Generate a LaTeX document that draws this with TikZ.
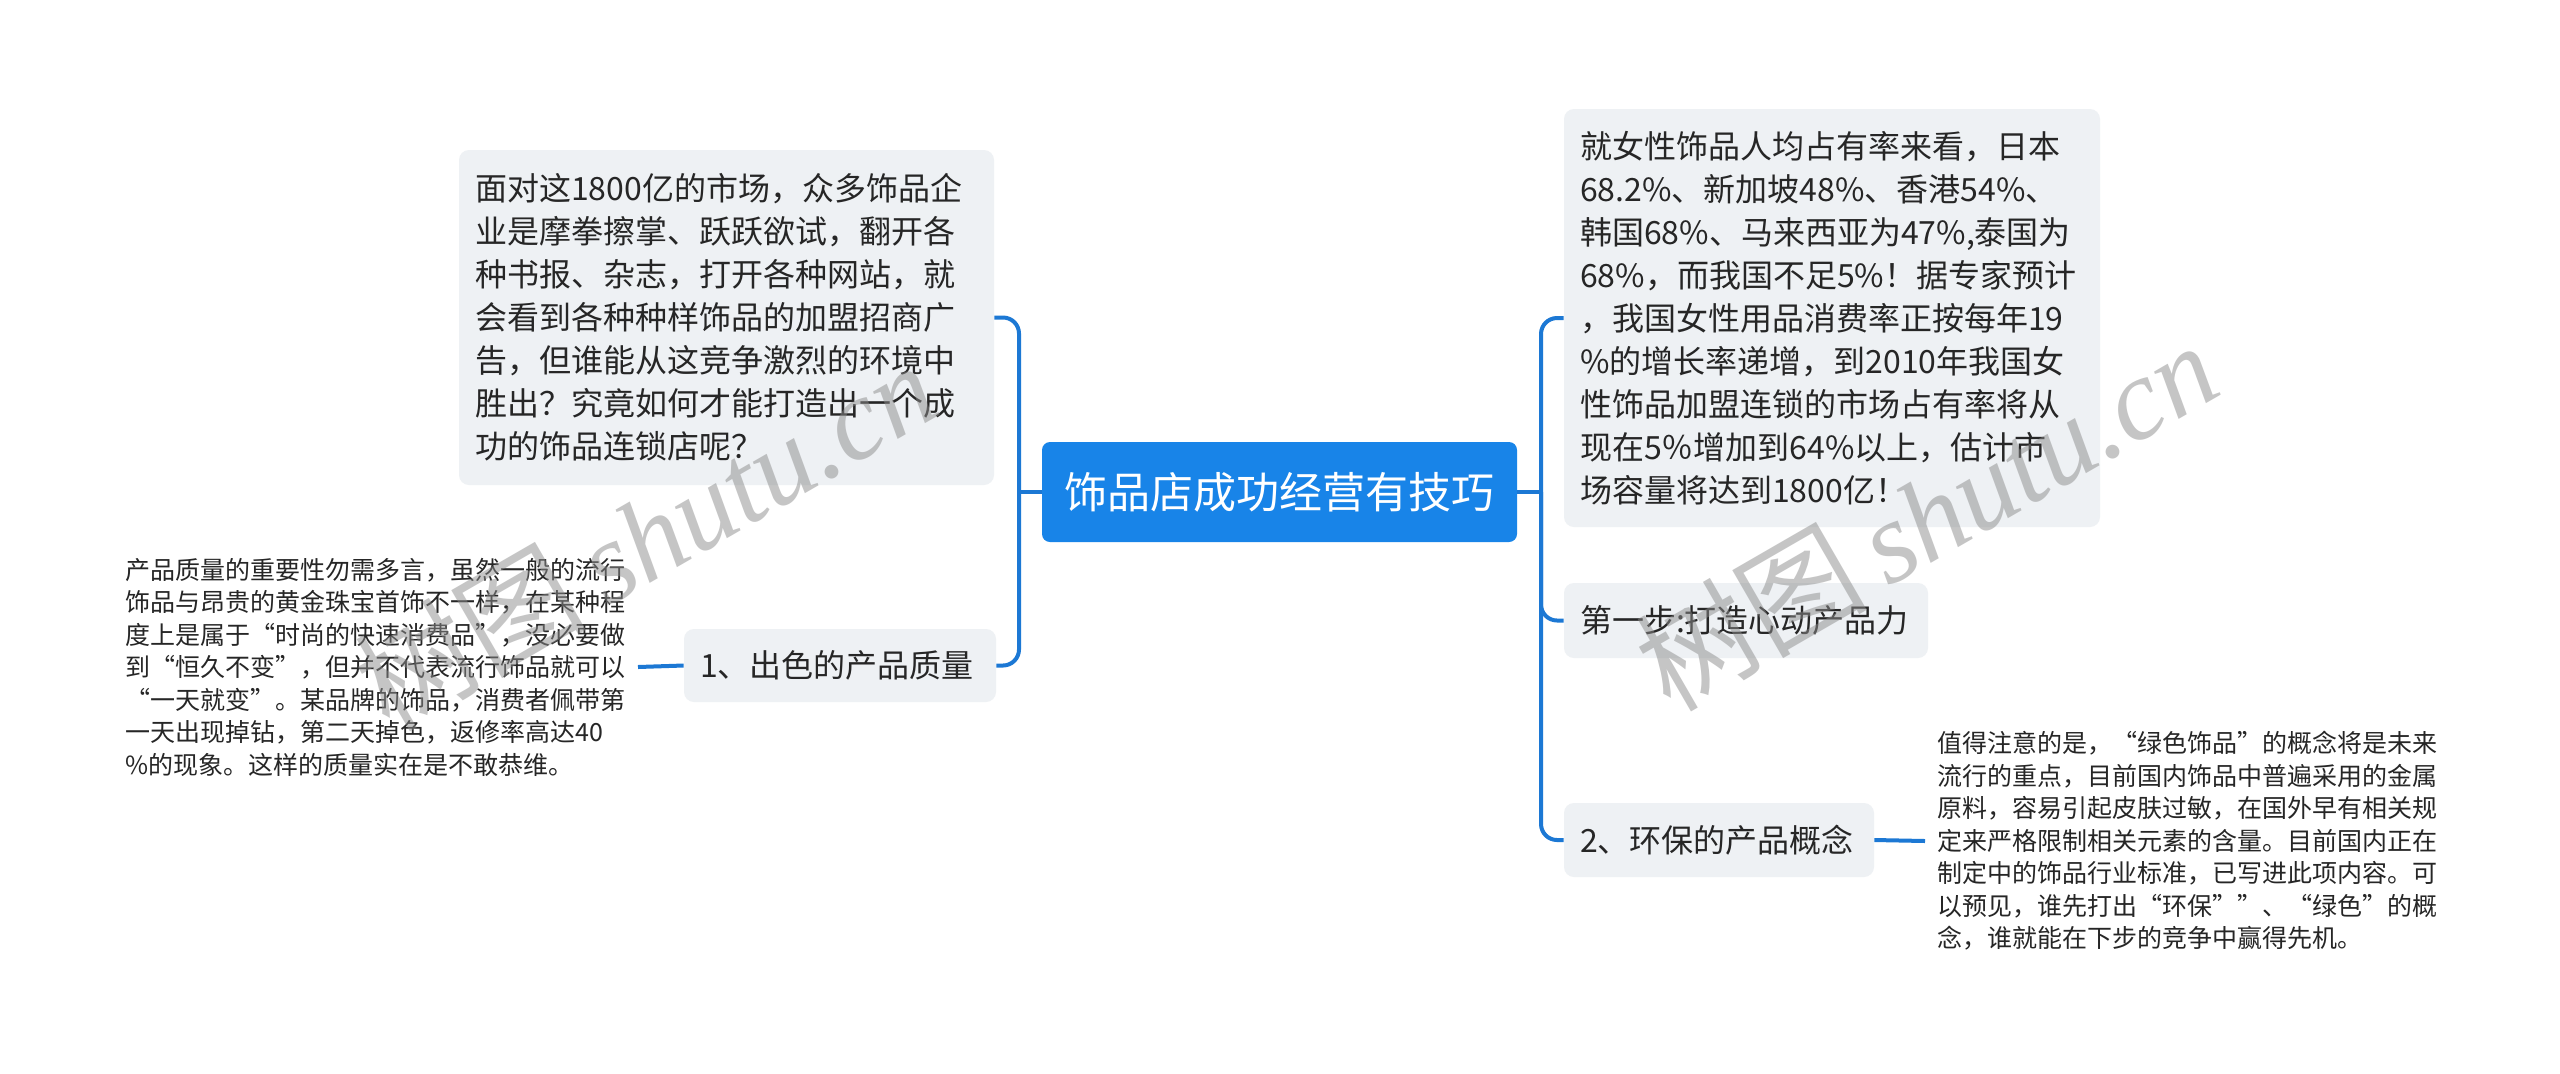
\documentclass[tikz,border=0pt]{standalone}
\usepackage{fontspec}
\setmainfont{Noto Sans CJK SC}
\newfontfamily\wmfont{Liberation Serif}
\usetikzlibrary{positioning}

\definecolor{rootblue}{RGB}{24,132,232}
\definecolor{linkblue}{RGB}{28,120,212}
\definecolor{boxgray}{RGB}{238,241,244}
\definecolor{inkgray}{RGB}{38,38,38}

\begin{document}
\begin{tikzpicture}[
          x=0.5pt, y=-0.5pt,
          rootbox/.style={fill=rootblue, rounded corners=4pt, text=white, inner sep=0pt,
            font=\fontsize{21.5}{26}\selectfont, minimum width=237.5pt, minimum height=50pt},
          topic/.style={fill=boxgray, rounded corners=5pt, text=inkgray, align=left,
            inner xsep=8pt, inner ysep=0pt, font=\fontsize{16}{21.5}\selectfont},
          leaf/.style={text=inkgray, align=left, inner xsep=6pt, inner ysep=0pt,
            font=\fontsize{12.5}{16.25}\selectfont},
          link/.style={draw=linkblue, line width=2pt, rounded corners=8pt},
          wmark/.style={text=black!45, text opacity=0.5, rotate=30,
            font=\fontsize{58}{58}\selectfont}
      ]
        \useasboundingbox (0,0) rectangle (2560,1073);
        \fill[white] (0,0) rectangle (2560,1073);

        \node[rootbox] (root) at (1279.5,492) {饰品店成功经营有技巧};

        \node[topic, text width=251.5pt, minimum height=167.5pt] (market) at (726.5,317.5)
          {面对这1800亿的市场，众多饰品企\\业是摩拳擦掌、跃跃欲试，翻开各\\种书报、杂志，打开各种网站，就\\会看到各种种样饰品的加盟招商广\\告，但谁能从这竞争激烈的环境中\\胜出？究竟如何才能打造出一个成\\功的饰品连锁店呢？};
        \node[topic, text width=140pt, minimum height=36.5pt] (quality) at (840,665.5) {1、出色的产品质量};
        \node[leaf, anchor=east] (qualitynote) at (638,667)
          {产品质量的重要性勿需多言，虽然一般的流行\\饰品与昂贵的黄金珠宝首饰不一样，在某种程\\度上是属于“时尚的快速消费品”，没必要做\\到“恒久不变”，但并不代表流行饰品就可以\\“一天就变”。某品牌的饰品，消费者佩带第\\一天出现掉钻，第二天掉色，返修率高达40\\\%的现象。这样的质量实在是不敢恭维。};

        \node[topic, text width=252pt, minimum height=209pt] (share) at (1832,318)
          {就女性饰品人均占有率来看，日本\\68.2\%、新加坡48\%、香港54\%、\\韩国68\%、马来西亚为47\%,泰国为\\68\%，而我国不足5\%！据专家预计\\，我国女性用品消费率正按每年19\\\%的增长率递增，到2010年我国女\\性饰品加盟连锁的市场占有率将从\\现在5％增加到64\%以上，估计市\\场容量将达到1800亿！};
        \node[topic, text width=166pt, minimum height=37.5pt] (step1) at (1746,620.5) {第一步:打造心动产品力};
        \node[topic, text width=139pt, minimum height=37pt] (green) at (1719,840) {2、环保的产品概念};
        \node[leaf, anchor=west] (greennote) at (1925,841)
          {值得注意的是，“绿色饰品”的概念将是未来\\流行的重点，目前国内饰品中普遍采用的金属\\原料，容易引起皮肤过敏，在国外早有相关规\\定来严格限制相关元素的含量。目前国内正在\\制定中的饰品行业标准，已写进此项内容。可\\以预见，谁先打出“环保””、“绿色”的概\\念，谁就能在下步的竞争中赢得先机。};

        \coordinate (jl) at (1019,492);
        \coordinate (jr) at (1541,492);
        \draw[link] (root.west) -- (jl);
        \draw[link] (market.east) -| (jl) |- (quality.east);
        \draw[link] (quality.west) -- (qualitynote.east);
        \draw[link] (root.east) -- (jr);
        \draw[link] (share.west) -| (jr) |- (green.west);
        \draw[link] (jr) |- (step1.west);
        \draw[link] (green.east) -- (greennote.west);

        \node[wmark] (wmleft) at (645,535) {树图\,{\wmfont\itshape shutu.cn}};
        \node[wmark] (wmright) at (1926,515) {树图\,{\wmfont\itshape shutu.cn}};
      \end{tikzpicture}
\end{document}
